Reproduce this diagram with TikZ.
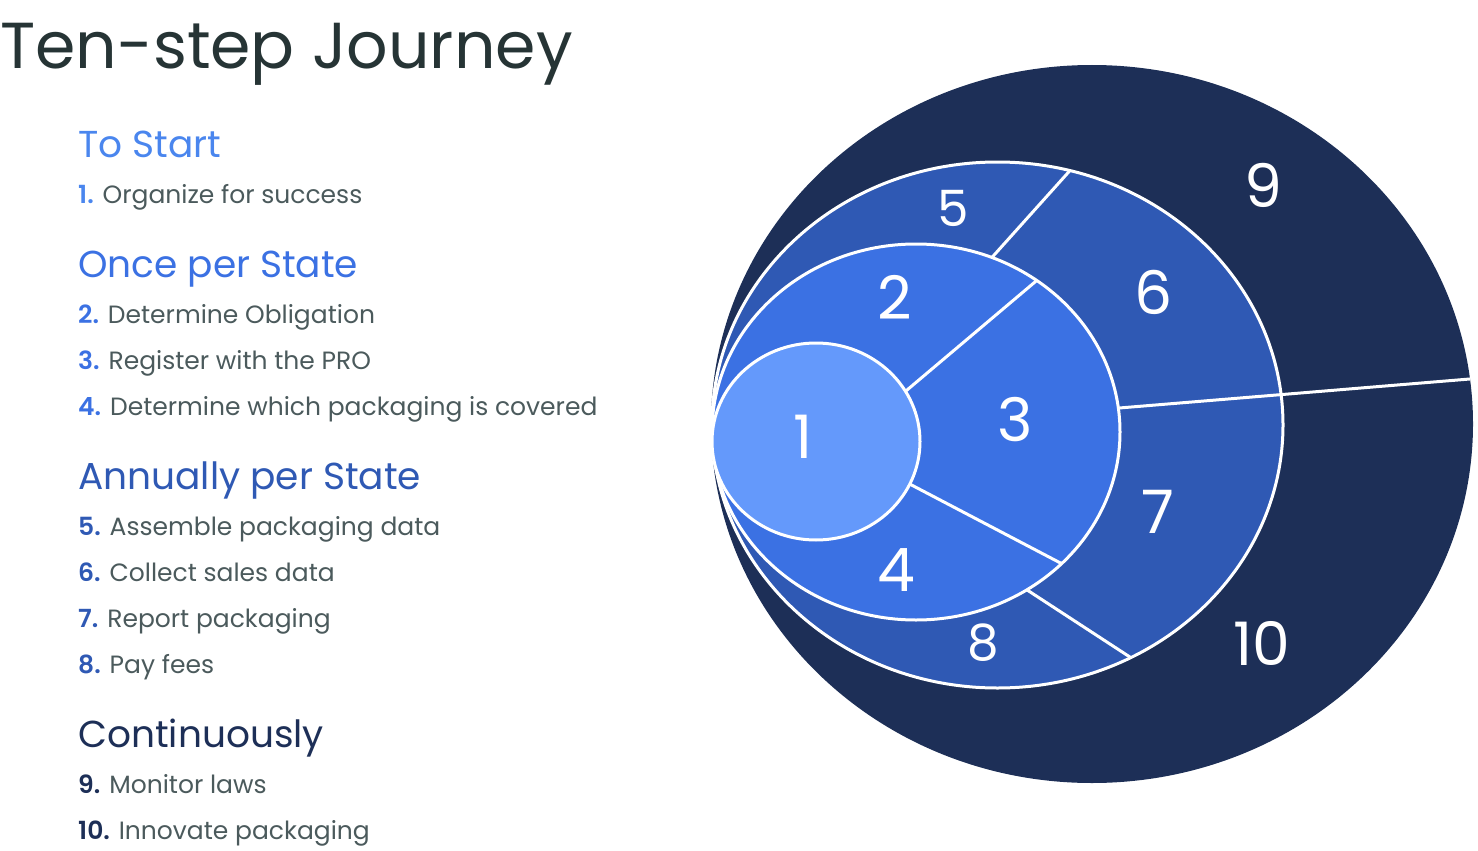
\documentclass[tikz,border=0pt]{standalone}
\usepackage{fontspec}
\setmainfont{Poppins}
\newfontfamily\numfont{Poppins SemiBold}
\usetikzlibrary{positioning}
\definecolor{navy}{HTML}{1D2F57}
\definecolor{midblue}{HTML}{2F59B4}
\definecolor{brightblue}{HTML}{3B71E3}
\definecolor{lightblue}{HTML}{6499FB}
\definecolor{startblue}{HTML}{4A86EE}
\definecolor{titlegray}{HTML}{263435}
\definecolor{textgray}{HTML}{4B5A5C}
\newcommand{\stepno}[2]{{\numfont\color{#1}#2}}
\begin{document}
\begin{tikzpicture}[x=1pt,y=-1pt,
  heading/.style={anchor=base west,inner sep=0pt,font=\fontsize{37.5}{45}\selectfont},
  item/.style={anchor=base west,inner sep=0pt,text=textgray,font=\fontsize{25}{30}\selectfont},
  bignum/.style={text=white,inner sep=0pt,font=\fontsize{60}{72}\selectfont},
  smallnum/.style={bignum,font=\fontsize{50}{60}\selectfont},
  border/.style={draw=white,line width=3pt},
  divider/.style={white,line width=3pt}]
  \useasboundingbox (0,0) rectangle (1478,851);
  % title and list
  \node[anchor=base west,inner sep=0pt,text=titlegray,font=\fontsize{65}{78}\selectfont] (title) at (0,69) {Ten-step Journey};
  \node[heading,text=startblue] (start) at (78,157) {To Start};
  \node[item] (s1) at (78,203) {\stepno{startblue}{1.} Organize for success};
  \node[heading,text=brightblue] (once) at (78,277) {Once per State};
  \node[item] (s2) at (78,323) {\stepno{brightblue}{2.} Determine Obligation};
  \node[item] (s3) at (78,369) {\stepno{brightblue}{3.} Register with the PRO};
  \node[item] (s4) at (78,415) {\stepno{brightblue}{4.} Determine which packaging is covered};
  \node[heading,text=midblue] (annual) at (78,489) {Annually per State};
  \node[item] (s5) at (78,535) {\stepno{midblue}{5.} Assemble packaging data};
  \node[item] (s6) at (78,581) {\stepno{midblue}{6.} Collect sales data};
  \node[item] (s7) at (78,627) {\stepno{midblue}{7.} Report packaging};
  \node[item] (s8) at (78,673) {\stepno{midblue}{8.} Pay fees};
  \node[heading,text=navy] (cont) at (78,747) {Continuously};
  \node[item] (s9) at (78,793) {\stepno{navy}{9.} Monitor laws};
  \node[item] (s10) at (78,839) {\stepno{navy}{10.} Innovate packaging};
  % rings
  \fill[navy] (1092,424) ellipse [x radius=381pt, y radius=359pt];
  \begin{scope}
    \clip (1092,424) ellipse [x radius=381pt, y radius=359pt];
    \draw[divider] (1083,411) -- (1506,376);
  \end{scope}
  \filldraw[fill=midblue,border] (997.5,425) ellipse [x radius=285.5pt, y radius=263pt];
  \begin{scope}
    \clip (997.5,425) ellipse [x radius=285.5pt, y radius=263pt];
    \draw[divider] (1083,411) -- (1506,376);
    \draw[divider] (969,283) -- (1092,146);
    \draw[divider] (998,571) -- (1159,676);
  \end{scope}
  \filldraw[fill=brightblue,border] (916,432) ellipse [x radius=204pt, y radius=188pt];
  \begin{scope}
    \clip (916,432) ellipse [x radius=204pt, y radius=188pt];
    \draw[divider] (881,412) -- (1061,260);
    \draw[divider] (881,469) -- (1091,579);
  \end{scope}
  \filldraw[fill=lightblue,border] (816,441.5) ellipse [x radius=104pt, y radius=98.5pt];
  % step numbers
  \node[bignum] (n1) at (803,437) {1};
  \node[bignum] (n2) at (895,297) {2};
  \node[bignum] (n3) at (1015,420) {3};
  \node[bignum] (n4) at (896,570) {4};
  \node[smallnum] (n5) at (953,208) {5};
  \node[bignum] (n6) at (1154,292) {6};
  \node[bignum] (n7) at (1158,512) {7};
  \node[smallnum] (n8) at (983,643) {8};
  \node[bignum] (n9) at (1263,185) {9};
  \node[bignum] (n10) at (1262,643) {10};
\end{tikzpicture}
\end{document}
